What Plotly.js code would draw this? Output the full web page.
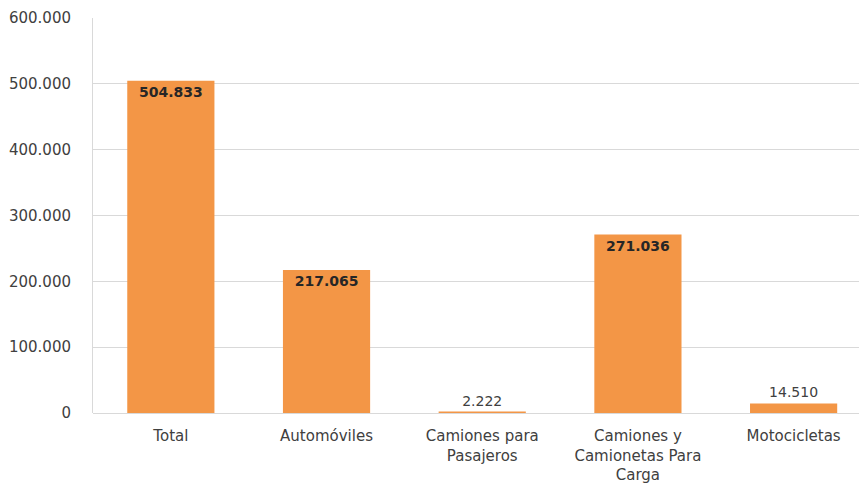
<!DOCTYPE html>
<html>
<head>
<meta charset="utf-8">
<script src="https://cdn.plot.ly/plotly-3.0.1.min.js"></script>
<style>html,body{margin:0;padding:0;background:#fff;}#chart{width:859px;height:487px;}</style>
</head>
<body>
<div id="chart"></div>
<script>
const categories = ["Total", "Automóviles", "Camiones para<br>Pasajeros", "Camiones y<br>Camionetas Para<br>Carga", "Motocicletas"];
const values = [504833, 217065, 2222, 271036, 14510];
const yTicks = [0, 100000, 200000, 300000, 400000, 500000, 600000];

const trace = {
  type: 'bar',
  x: categories,
  y: values,
  marker: {color: '#F39646'},
  texttemplate: '%{y:,}',
  textposition: 'auto',
  insidetextanchor: 'end',
  constraintext: 'none',
  insidetextfont: {family: 'DejaVu Sans', size: 14, color: '#262626', weight: 'bold'},
  outsidetextfont: {family: 'DejaVu Sans', size: 14, color: '#404040'},
  cliponaxis: false,
  hoverinfo: 'none'
};

const layout = {
  width: 859, height: 487,
  margin: {l: 93, r: 0, t: 18, b: 74, pad: 0},
  separators: ',.',
  paper_bgcolor: '#ffffff',
  plot_bgcolor: '#ffffff',
  bargap: 0.44,
  showlegend: false,
  font: {family: 'DejaVu Sans', size: 14, color: '#404040'},
  xaxis: {
    type: 'category',
    range: [-0.5, 4.42],
    showgrid: false,
    showline: false,
    ticks: '',
    ticklabelstandoff: 12,
    tickfont: {family: 'DejaVu Sans', size: 15, color: '#404040'},
    fixedrange: true
  },
  yaxis: {
    range: [0, 600000],
    tickvals: yTicks,
    tickformat: ',d',
    showgrid: true,
    gridcolor: '#d9d9d9',
    gridwidth: 1,
    zeroline: true,
    zerolinecolor: '#d9d9d9',
    zerolinewidth: 1,
    showline: true,
    linecolor: '#d9d9d9',
    linewidth: 1,
    ticks: '',
    ticklabelstandoff: 18,
    tickfont: {family: 'DejaVu Sans', size: 15, color: '#404040'},
    fixedrange: true
  }
};

Plotly.newPlot('chart', [trace], layout, {displayModeBar: false, staticPlot: true});
</script>
</body>
</html>
